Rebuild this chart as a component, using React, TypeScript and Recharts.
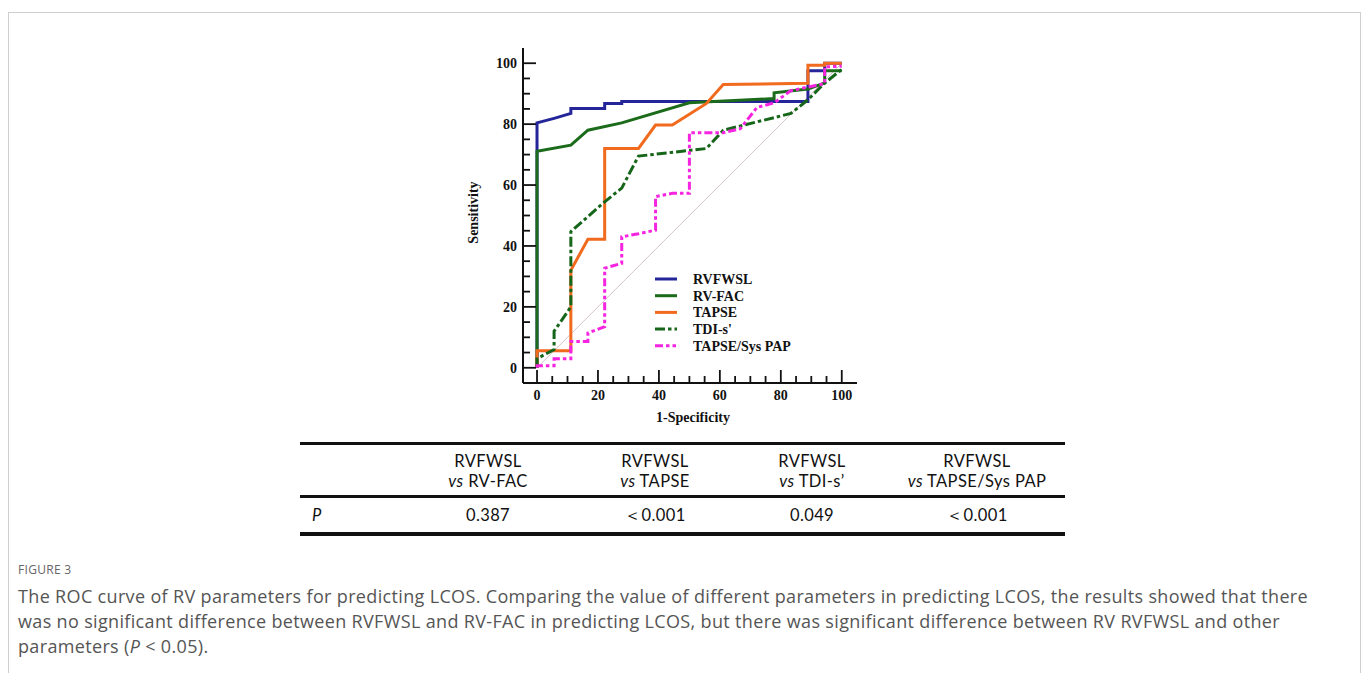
import { Legend, Line, LineChart, XAxis, YAxis } from "recharts";

// ROC points: 1-specificity (%) and sensitivity (%)
const rvfwslFpr = [0, 0, 5.6, 11.1, 11.1, 22.2, 22.2, 27.8, 27.8, 88.9, 88.9, 94.4, 94.4, 100];
const rvfwslSens = [0, 80.4, 81.9, 83.5, 85.1, 85.1, 86.8, 86.8, 87.4, 87.4, 97.5, 97.5, 100, 100];

const rvfacFpr = [0, 0, 11.1, 16.7, 27.8, 50, 77.8, 77.8, 88.9, 94.4, 94.4, 100];
const rvfacSens = [0, 71.1, 73.1, 78, 80.4, 87, 88.4, 90.3, 91.5, 93.5, 97.5, 97.5];

const tapseFpr = [0, 0, 11.1, 11.1, 16.7, 22.2, 22.2, 33.3, 38.9, 44.4, 55.6, 61.1, 88.9, 88.9, 94.4, 94.4, 100];
const tapseSens = [0, 5.6, 5.6, 32, 42.2, 42.2, 72, 72, 79.7, 79.7, 86.8, 93, 93.4, 99.3, 99.3, 100, 100];

const tdiFpr = [0, 0, 5.6, 5.6, 11.1, 11.1, 22.2, 27.8, 33.3, 55.6, 61.1, 83.3, 88.9, 94.4, 100];
const tdiSens = [0, 3, 6, 12, 20, 44.7, 54.5, 59, 69.5, 72, 78, 83.5, 88, 93.5, 98];

const papFpr = [0, 0, 5.6, 5.6, 11.1, 11.1, 16.7, 16.7, 22.2, 22.2, 27.8, 27.8, 33.3, 38.9, 38.9, 44.4, 50, 50, 61.1, 66.7, 72.2, 77.8, 83.3, 94.4, 94.4, 100];
const papSens = [0, 0.7, 0.7, 3, 3, 8.6, 8.6, 11.4, 13.5, 32.7, 34.3, 43, 44, 45.2, 56.2, 57.3, 57.3, 77.2, 77.2, 78.5, 85.5, 87, 91, 93.3, 98.8, 99];

const diagFpr = [0, 100];
const diagSens = [0, 100];

const axisTicks = [0, 5, 10, 15, 20, 25, 30, 35, 40, 45, 50, 55, 60, 65, 70, 75, 80, 85, 90, 95, 100];
const labelTicks = [0, 20, 40, 60, 80, 100];

// table under the plot
const compareNames = ["RV-FAC", "TAPSE", "TDI-s\u2019", "TAPSE/Sys PAP"];
const pValues = ["0.387", "\uFF1C0.001", "0.049", "\uFF1C0.001"];

const captionLines = [
  "The ROC curve of RV parameters for predicting LCOS. Comparing the value of different parameters in predicting LCOS, the results showed that there",
  "was no significant difference between RVFWSL and RV-FAC in predicting LCOS, but there was significant difference between RV RVFWSL and other",
];

const toPoints = (xs: number[], ys: number[]) => xs.map((x, i) => ({ x, y: ys[i] }));

const series = [
  { name: "RVFWSL", color: "#25259a", dash: undefined, data: toPoints(rvfwslFpr, rvfwslSens) },
  { name: "RV-FAC", color: "#1b6b1b", dash: undefined, data: toPoints(rvfacFpr, rvfacSens) },
  { name: "TAPSE", color: "#f26a1e", dash: undefined, data: toPoints(tapseFpr, tapseSens) },
  { name: "TDI-s'", color: "#16661a", dash: "10 3 3.5 3", data: toPoints(tdiFpr, tdiSens) },
  { name: "TAPSE/Sys PAP", color: "#f524e0", dash: "8 3 3.5 3 3.5 3", data: toPoints(papFpr, papSens) },
];

const SERIF = "'Liberation Serif', 'Times New Roman', serif";
const SANS = "Lato, 'Noto Sans', sans-serif";

function XTick({ x, y, payload }: any) {
  const major = labelTicks.includes(payload.value);
  return (
    <g>
      <line x1={x} y1={y} x2={x} y2={y - (major ? 13 : 7)} stroke="#111" strokeWidth={1.8} />
      {major && (
        <text x={x} y={y + 17} textAnchor="middle" fontFamily={SERIF} fontWeight="bold" fontSize={14} fill="#111">
          {payload.value}
        </text>
      )}
    </g>
  );
}

function YTick({ x, y, payload }: any) {
  const major = labelTicks.includes(payload.value);
  return (
    <g>
      <line x1={x} y1={y} x2={x + (major ? 13 : 7)} y2={y} stroke="#111" strokeWidth={1.8} />
      {major && (
        <text x={x - 6} y={y + 5} textAnchor="end" fontFamily={SERIF} fontWeight="bold" fontSize={14} fill="#111">
          {payload.value}
        </text>
      )}
    </g>
  );
}

function RocLegend() {
  return (
    <svg width={170} height={90}>
      {series.map((s, i) => (
        <g key={s.name}>
          <line x1={0} x2={22} y1={8 + i * 16.7} y2={8 + i * 16.7} stroke={s.color} strokeWidth={3} strokeDasharray={s.dash} />
          <text x={38} y={13 + i * 16.7} fontFamily={SERIF} fontWeight="bold" fontSize={14} fill="#111">
            {s.name}
          </text>
        </g>
      ))}
    </svg>
  );
}

const colCenters = [488, 655, 812, 977];

export default function App() {
  return (
    <div style={{ position: "absolute", left: 0, top: 0, width: 1370, height: 673, background: "#fff", overflow: "hidden" }}>
      <div style={{ position: "absolute", left: 8, top: 12, width: 1353, height: 700, border: "1px solid #cfcfcf", boxSizing: "border-box" }} />

      <div style={{ position: "absolute", left: 440, top: 30 }}>
        <LineChart width={440} height={410} margin={{ top: 18, right: 23, bottom: 56, left: 82 }}>
          <XAxis
            dataKey="x"
            type="number"
            domain={[-4.6, 105]}
            ticks={axisTicks}
            interval={0}
            height={1}
            tickSize={0}
            tickMargin={0}
            tickLine={false}
            axisLine={{ stroke: "#111", strokeWidth: 2 }}
            tick={<XTick />}
            allowDataOverflow
            label={({ viewBox }: any) => (
              <text x={viewBox.x + viewBox.width / 2 + 3} y={viewBox.y + 39} textAnchor="middle" fontFamily={SERIF} fontWeight="bold" fontSize={14} fill="#111">
                1-Specificity
              </text>
            )}
          />
          <YAxis
            type="number"
            domain={[-5, 105]}
            ticks={axisTicks}
            interval={0}
            width={1}
            tickSize={0}
            tickMargin={0}
            tickLine={false}
            axisLine={{ stroke: "#111", strokeWidth: 2 }}
            tick={<YTick />}
            allowDataOverflow
            label={({ viewBox }: any) => {
              const cx = viewBox.x + viewBox.width - 50;
              const cy = viewBox.y + viewBox.height / 2 - 3;
              return (
                <text x={cx} y={cy} transform={`rotate(-90 ${cx} ${cy})`} textAnchor="middle" dominantBaseline="central" fontFamily={SERIF} fontWeight="bold" fontSize={14} fill="#111">
                  Sensitivity
                </text>
              );
            }}
          />
          <Line data={toPoints(diagFpr, diagSens)} dataKey="y" stroke="#d6c2ca" strokeWidth={1} dot={false} isAnimationActive={false} legendType="none" />
          {series.map((s) => (
            <Line
              key={s.name}
              name={s.name}
              data={s.data}
              dataKey="y"
              type="linear"
              stroke={s.color}
              strokeWidth={3}
              strokeDasharray={s.dash}
              dot={false}
              isAnimationActive={false}
            />
          ))}
          <Legend
            layout="vertical"
            align="center"
            verticalAlign="middle"
            content={<RocLegend />}
            wrapperStyle={{ position: "absolute", left: 215, top: 241, width: 170, height: 90 }}
          />
        </LineChart>
      </div>

      {/* P-value table */}
      <div style={{ position: "absolute", left: 300, top: 442, width: 765, height: 3, background: "#111" }} />
      <div style={{ position: "absolute", left: 300, top: 495, width: 765, height: 3, background: "#111" }} />
      <div style={{ position: "absolute", left: 300, top: 532, width: 765, height: 4, background: "#111" }} />
      {compareNames.map((name, i) => (
        <div key={name} style={{ position: "absolute", left: colCenters[i] - 100, top: 451, width: 200, textAlign: "center", fontFamily: SANS, fontSize: 16.5, letterSpacing: 0.4, lineHeight: "20px", color: "#111" }}>
          <div>RVFWSL</div>
          <div>
            <i>vs</i> {name}
          </div>
        </div>
      ))}
      <div style={{ position: "absolute", left: 312, top: 504, fontFamily: SANS, fontSize: 16.5, lineHeight: "22px", fontStyle: "italic", color: "#111" }}>P</div>
      {pValues.map((p, i) => (
        <div key={i} style={{ position: "absolute", left: colCenters[i] - 100, top: 504, width: 200, textAlign: "center", fontFamily: SANS, fontSize: 16.5, letterSpacing: 0.4, lineHeight: "22px", color: "#111" }}>
          {p}
        </div>
      ))}

      {/* caption */}
      <div style={{ position: "absolute", left: 18, top: 561, fontFamily: "'Open Sans', sans-serif", fontSize: 12, letterSpacing: 0.3, color: "#666" }}>FIGURE 3</div>
      <div style={{ position: "absolute", left: 18, top: 584, fontFamily: "'Open Sans', sans-serif", fontSize: 18, letterSpacing: 0.34, lineHeight: "25px", color: "#555", whiteSpace: "nowrap" }}>
        {captionLines.map((l) => (
          <div key={l}>{l}</div>
        ))}
        <div>
          parameters (<i>P</i> &lt; 0.05).
        </div>
      </div>
    </div>
  );
}
